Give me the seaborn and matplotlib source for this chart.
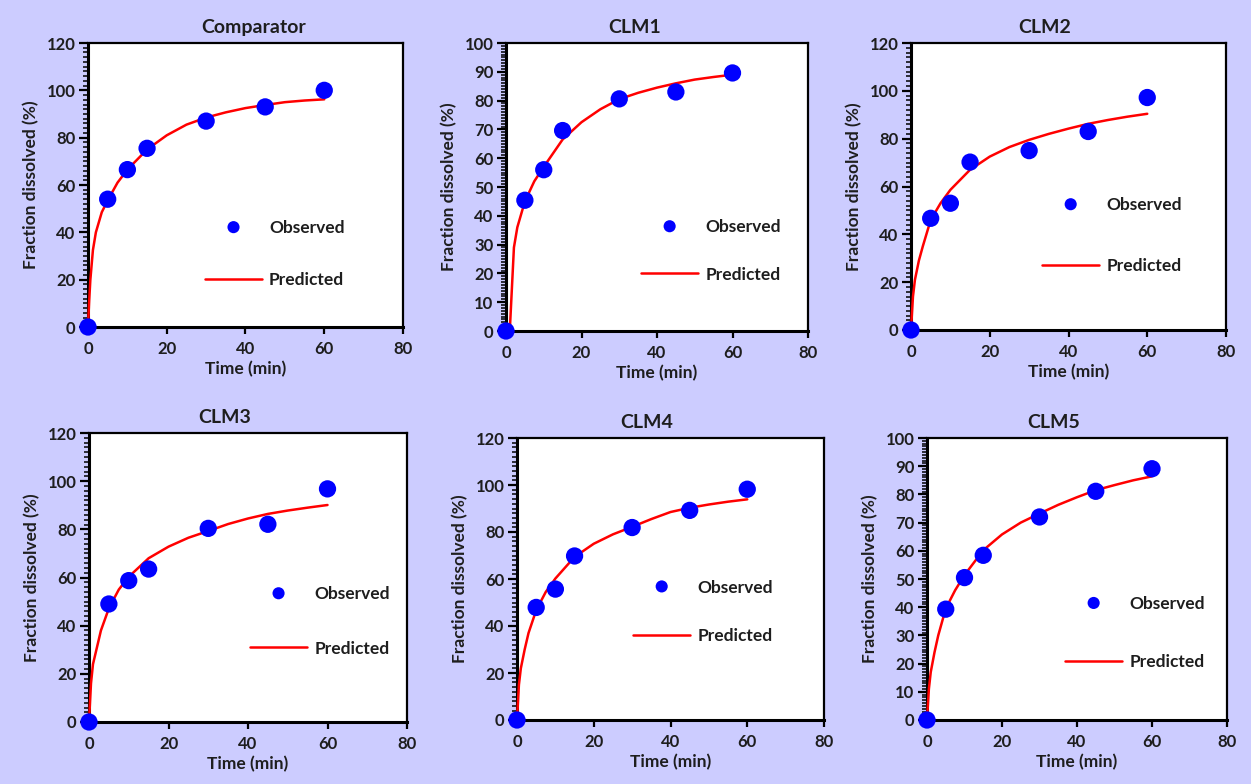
import numpy as np
import pandas as pd
import matplotlib
matplotlib.use("Agg")
import matplotlib.pyplot as plt
from matplotlib.ticker import MultipleLocator, NullLocator
import seaborn as sns

# ---------------- data ----------------
titles = ["Comparator", "CLM1", "CLM2", "CLM3", "CLM4", "CLM5"]

obs_time = [0, 5, 10, 15, 30, 45, 60]
obs_comparator = [0, 54, 66.5, 75.5, 87, 93, 100]
obs_clm1 = [0, 45.4, 56, 69.6, 80.6, 83, 89.6]
obs_clm2 = [0, 46.7, 53, 70.2, 75, 83, 97.2]
obs_clm3 = [0, 49, 58.7, 63.5, 80.4, 82.1, 96.8]
obs_clm4 = [0, 47.9, 55.7, 69.8, 81.9, 89.2, 98.2]
obs_clm5 = [0, 39.3, 50.5, 58.4, 72, 81.1, 89.1]

pred_time_comparator = [0, 0.3, 0.6, 1.25, 2, 3.5, 5, 7.5, 10, 15, 20, 25, 30, 35, 40, 45, 50, 55, 60]
pred_comparator = [0, 11, 20, 32.5, 40, 48.5, 53.5, 61, 66.5, 75, 81, 85.5, 88.5, 90.7, 92.5, 93.8, 95, 95.7, 96.2]

pred_time_clm1 = [0, 1.0, 2.1, 3, 5, 7.5, 10, 15, 20, 25, 30, 35, 40, 45, 50, 55, 60]
pred_clm1 = [0, 0, 29, 36, 45, 52, 57, 66.5, 72.5, 77, 80.5, 82.7, 84.5, 86, 87.3, 88.2, 89]

pred_time = [0, 0.5, 1, 2, 3, 5, 7.5, 10, 15, 20, 25, 30, 35, 40, 45, 50, 55, 60]
pred_clm2 = [0, 14, 21, 29, 35, 46, 53, 58.6, 67, 72.5, 76.5, 79.5, 82, 84.2, 86.2, 87.8, 89.2, 90.4]
pred_clm3 = [0, 16, 24, 31, 38, 47.2, 55, 60.3, 68, 72.8, 76.5, 79.3, 82.2, 84.5, 86.4, 87.8, 89, 90.1]
pred_clm4 = [0, 15, 22, 30, 37, 46.7, 54.5, 60.2, 69.4, 75, 79, 82.2, 85.5, 88.5, 90.3, 91.7, 92.9, 93.9]
pred_clm5 = [0, 11, 17, 24, 30, 39.5, 46, 51.4, 60.2, 65.8, 70, 73.2, 76.3, 79, 81.5, 83.3, 85, 86.4]

y_max = [120, 100, 120, 120, 120, 100]
y_major = [20, 10, 20, 20, 20, 10]
x_ticks = [0, 20, 40, 60, 80]

observed = [obs_comparator, obs_clm1, obs_clm2, obs_clm3, obs_clm4, obs_clm5]
predicted = [(pred_time_comparator, pred_comparator), (pred_time_clm1, pred_clm1),
             (pred_time, pred_clm2), (pred_time, pred_clm3),
             (pred_time, pred_clm4), (pred_time, pred_clm5)]

# ---------------- layout ----------------
W, H = 1251, 784
# axes boxes in pixels: x0, x1, y_top, y_bottom
boxes = [(88, 403, 43, 327), (506, 808, 43, 331), (911, 1226, 43, 330),
         (89, 407, 433, 722), (517, 824, 438, 720), (927, 1227, 438, 720)]
# legend: handle-start x frac, vertical middle frac, labelspacing
legend_pos = [(0.371, 0.257, 2.05), (0.447, 0.278, 1.8), (0.416, 0.328, 2.6),
              (0.506, 0.348, 2.2), (0.378, 0.383, 1.9), (0.46, 0.309, 2.4)]
title_x = [0.527, 0.427, 0.425, 0.425, 0.423, 0.423]

sns.set_theme(style="white")
plt.rcParams["font.family"] = ["Lato", "DejaVu Sans"]
plt.rcParams["font.weight"] = "bold"
plt.rcParams["axes.labelweight"] = "bold"
plt.rcParams["axes.titleweight"] = "bold"
plt.rcParams["ytick.minor.visible"] = True
plt.rcParams["ytick.minor.size"] = 3.5
plt.rcParams["ytick.minor.width"] = 1.1
plt.rcParams["ytick.left"] = True
plt.rcParams["xtick.bottom"] = True

BG = "#CCCCFF"
TXT = "#1e1e1e"
fig = plt.figure(figsize=(W / 100, H / 100), dpi=100, facecolor=BG)

for i in range(6):
    x0, x1, yt, yb = boxes[i]
    ax = fig.add_axes([x0 / W, (H - yb) / H, (x1 - x0) / W, (yb - yt) / H])
    ax.set_facecolor("white")

    tp, yp = predicted[i]
    dfp = pd.DataFrame({"t": tp, "y": yp})
    dfo = pd.DataFrame({"t": obs_time, "y": observed[i]})

    sns.scatterplot(data=dfo, x="t", y="y", ax=ax, color="#0000FF", s=155,
                    edgecolor="none", label="Observed", clip_on=False, zorder=5)
    sns.lineplot(data=dfp, x="t", y="y", ax=ax, color="#FF0000", lw=1.8,
                 label="Predicted", zorder=4, clip_on=False)

    ax.set_xlim(0, 80)
    ax.set_ylim(0, y_max[i])
    ax.set_xticks(x_ticks)
    ax.xaxis.set_minor_locator(NullLocator())
    ax.yaxis.set_major_locator(MultipleLocator(y_major[i]))
    ax.yaxis.set_minor_locator(MultipleLocator(y_major[i] / 10))

    ax.tick_params(axis="y", which="major", direction="out", length=6.5, width=1.6,
                   left=True, labelsize=12, labelcolor=TXT, color="black", pad=2.5)
    ax.tick_params(axis="y", which="minor", direction="out", length=3.5, width=1.1,
                   left=True, color="black")
    ax.tick_params(axis="x", which="major", direction="out", length=5, width=1.6,
                   bottom=True, labelsize=12, labelcolor=TXT, color="black", pad=5)
    for lbl in ax.get_xticklabels() + ax.get_yticklabels():
        lbl.set_fontweight("bold")

    for side, lw in [("left", 2.2), ("bottom", 2.2), ("top", 1.6), ("right", 1.6)]:
        ax.spines[side].set_visible(True)
        ax.spines[side].set_color("black")
        ax.spines[side].set_linewidth(lw)

    ax.set_xlabel("Time (min)", fontsize=12.5, fontweight="bold", color=TXT, labelpad=3)
    ax.set_ylabel("Fraction dissolved (%)", fontsize=12.5, fontweight="bold", color=TXT, labelpad=5)
    ax.set_title(titles[i], fontsize=14, fontweight="bold", color=TXT, x=title_x[i], pad=7)

    lx, ly, ls = legend_pos[i]
    handles, labels = ax.get_legend_handles_labels()
    leg = ax.legend(handles, labels, loc="center left", bbox_to_anchor=(lx, ly),
                    frameon=False, borderpad=0, borderaxespad=0, handlelength=3.3,
                    handletextpad=0.4, labelspacing=ls, markerscale=0.7,
                    scatteryoffsets=[0.5], prop={"size": 12.5, "weight": "bold"})
    for t in leg.get_texts():
        t.set_color(TXT)

fig.savefig("out.png", dpi=100, facecolor=BG)
